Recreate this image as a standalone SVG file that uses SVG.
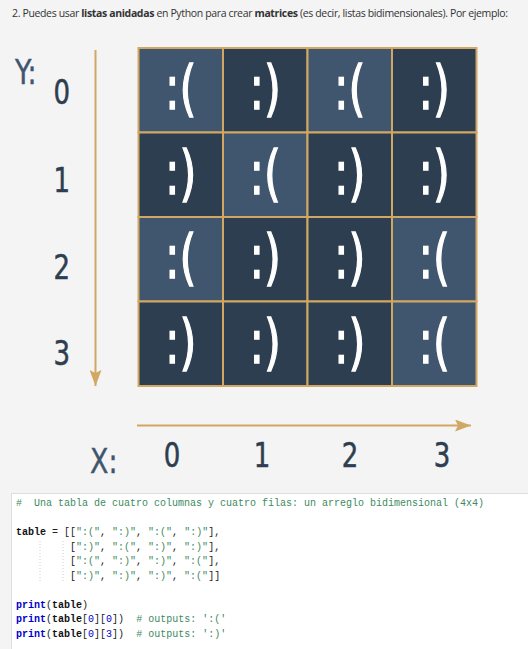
<svg xmlns="http://www.w3.org/2000/svg" width="528" height="649" viewBox="0 0 528 649">
<style>
.bg{fill:#f4f4f4}
.light{fill:#3f566e;stroke:#d2a764;stroke-width:2}
.dark{fill:#2c3e50;stroke:#d2a764;stroke-width:2}
.face{font-family:"DejaVu Sans Condensed","DejaVu Sans",sans-serif;font-size:60px;fill:#ffffff;stroke:#ffffff;stroke-width:1.3;text-anchor:middle}
.num{font-family:"DejaVu Sans Condensed","DejaVu Sans",sans-serif;font-size:34px;fill:#2c3e50;stroke:#2c3e50;stroke-width:0.5}
.axl{font-family:"DejaVu Sans Condensed","DejaVu Sans",sans-serif;font-size:34px;fill:#3f566e;stroke:#3f566e;stroke-width:0.4}
.axis{stroke:#d2a764;stroke-width:2;fill:none}
.title{font-family:"Open Sans","Noto Sans",sans-serif;font-size:10.5px;fill:#333}
.code{font-family:"Liberation Mono",monospace;font-size:10px;fill:#222}
.cm{fill:#3d8a5e}
.st{fill:#3d8a5e}
.kw{fill:#0000cc;font-weight:bold}
.id{font-weight:bold;fill:#111}
.nb{fill:#0000cc}
</style>
<defs>
<marker id="ah" viewBox="0 0 16 12" refX="16" refY="6" markerWidth="16" markerHeight="12" markerUnits="userSpaceOnUse" orient="auto">
<path d="M0,0 L16,6 L0,12 L3,6 Z" fill="#d2a764"/>
</marker>
</defs>
<rect class="bg" x="0" y="0" width="528" height="649"/>
<text class="title" x="12" y="17" textLength="496" lengthAdjust="spacing">2. Puedes usar <tspan font-weight="bold">listas anidadas</tspan> en Python para crear <tspan font-weight="bold">matrices</tspan> (es decir, listas bidimensionales). Por ejemplo:</text>

<g id="labels">
<text class="axl" transform="translate(15,84) scale(0.88,1)">Y:</text>
<text class="num" transform="translate(70,104) scale(0.85,1)" text-anchor="end">0</text>
<text class="num" transform="translate(70,192) scale(0.85,1)" text-anchor="end">1</text>
<text class="num" transform="translate(70,279) scale(0.85,1)" text-anchor="end">2</text>
<text class="num" transform="translate(70,365) scale(0.85,1)" text-anchor="end">3</text>
<text class="axl" transform="translate(90,473) scale(0.88,1)">X:</text>
<text class="num" transform="translate(172,467) scale(0.85,1)" text-anchor="middle">0</text>
<text class="num" transform="translate(262,467) scale(0.85,1)" text-anchor="middle">1</text>
<text class="num" transform="translate(350,467) scale(0.85,1)" text-anchor="middle">2</text>
<text class="num" transform="translate(442,467) scale(0.85,1)" text-anchor="middle">3</text>
</g>

<g id="connectors">
<line class="axis" x1="95.5" y1="50" x2="95.5" y2="386" marker-end="url(#ah)"/>
<line class="axis" x1="137" y1="425.5" x2="471" y2="425.5" marker-end="url(#ah)"/>
</g>

<g id="grid">
<g id="c00"><rect class="light" x="138.5" y="48" width="84.5" height="84.5"/><text class="face" transform="translate(180.75,109) scale(0.8,1)">:(</text></g>
<g id="c01"><rect class="dark" x="223" y="48" width="84.5" height="84.5"/><text class="face" transform="translate(265.25,109) scale(0.8,1)">:)</text></g>
<g id="c02"><rect class="light" x="307.5" y="48" width="84.5" height="84.5"/><text class="face" transform="translate(349.75,109) scale(0.8,1)">:(</text></g>
<g id="c03"><rect class="dark" x="392" y="48" width="84.5" height="84.5"/><text class="face" transform="translate(434.25,109) scale(0.8,1)">:)</text></g>

<g id="c10"><rect class="dark" x="138.5" y="132.5" width="84.5" height="84.5"/><text class="face" transform="translate(180.75,193.5) scale(0.8,1)">:)</text></g>
<g id="c11"><rect class="light" x="223" y="132.5" width="84.5" height="84.5"/><text class="face" transform="translate(265.25,193.5) scale(0.8,1)">:(</text></g>
<g id="c12"><rect class="dark" x="307.5" y="132.5" width="84.5" height="84.5"/><text class="face" transform="translate(349.75,193.5) scale(0.8,1)">:)</text></g>
<g id="c13"><rect class="dark" x="392" y="132.5" width="84.5" height="84.5"/><text class="face" transform="translate(434.25,193.5) scale(0.8,1)">:)</text></g>

<g id="c20"><rect class="light" x="138.5" y="217" width="84.5" height="84.5"/><text class="face" transform="translate(180.75,278) scale(0.8,1)">:(</text></g>
<g id="c21"><rect class="dark" x="223" y="217" width="84.5" height="84.5"/><text class="face" transform="translate(265.25,278) scale(0.8,1)">:)</text></g>
<g id="c22"><rect class="dark" x="307.5" y="217" width="84.5" height="84.5"/><text class="face" transform="translate(349.75,278) scale(0.8,1)">:)</text></g>
<g id="c23"><rect class="light" x="392" y="217" width="84.5" height="84.5"/><text class="face" transform="translate(434.25,278) scale(0.8,1)">:(</text></g>

<g id="c30"><rect class="dark" x="138.5" y="301.5" width="84.5" height="84.5"/><text class="face" transform="translate(180.75,362.5) scale(0.8,1)">:)</text></g>
<g id="c31"><rect class="dark" x="223" y="301.5" width="84.5" height="84.5"/><text class="face" transform="translate(265.25,362.5) scale(0.8,1)">:)</text></g>
<g id="c32"><rect class="dark" x="307.5" y="301.5" width="84.5" height="84.5"/><text class="face" transform="translate(349.75,362.5) scale(0.8,1)">:)</text></g>
<g id="c33"><rect class="light" x="392" y="301.5" width="84.5" height="84.5"/><text class="face" transform="translate(434.25,362.5) scale(0.8,1)">:(</text></g>
</g>

<g id="code">
<rect x="11.5" y="493.5" width="520" height="160" fill="#ffffff" stroke="#dddddd" stroke-width="1"/>
<line x1="40" y1="541" x2="40" y2="582" stroke="#cccccc" stroke-width="1" stroke-dasharray="1,2"/>
<line x1="63" y1="541" x2="63" y2="582" stroke="#cccccc" stroke-width="1" stroke-dasharray="1,2"/>
<text class="code" xml:space="preserve" x="16" y="506"><tspan class="cm">#  Una tabla de cuatro columnas y cuatro filas: un arreglo bidimensional (4x4)</tspan></text>
<text class="code" xml:space="preserve" x="16" y="535"><tspan class="id">table</tspan> = [[<tspan class="st">":("</tspan>, <tspan class="st">":)"</tspan>, <tspan class="st">":("</tspan>, <tspan class="st">":)"</tspan>],</text>
<text class="code" xml:space="preserve" x="70" y="549.5">[<tspan class="st">":)"</tspan>, <tspan class="st">":("</tspan>, <tspan class="st">":)"</tspan>, <tspan class="st">":)"</tspan>],</text>
<text class="code" xml:space="preserve" x="70" y="564">[<tspan class="st">":("</tspan>, <tspan class="st">":)"</tspan>, <tspan class="st">":)"</tspan>, <tspan class="st">":("</tspan>],</text>
<text class="code" xml:space="preserve" x="70" y="578.5">[<tspan class="st">":)"</tspan>, <tspan class="st">":)"</tspan>, <tspan class="st">":)"</tspan>, <tspan class="st">":("</tspan>]]</text>
<text class="code" xml:space="preserve" x="16" y="607.5"><tspan class="kw">print</tspan>(<tspan class="id">table</tspan>)</text>
<text class="code" xml:space="preserve" x="16" y="622"><tspan class="kw">print</tspan>(<tspan class="id">table</tspan>[<tspan class="nb">0</tspan>][<tspan class="nb">0</tspan>])  <tspan class="cm"># outputs: ':('</tspan></text>
<text class="code" xml:space="preserve" x="16" y="636.5"><tspan class="kw">print</tspan>(<tspan class="id">table</tspan>[<tspan class="nb">0</tspan>][<tspan class="nb">3</tspan>])  <tspan class="cm"># outputs: ':)'</tspan></text>
</g>
</svg>
